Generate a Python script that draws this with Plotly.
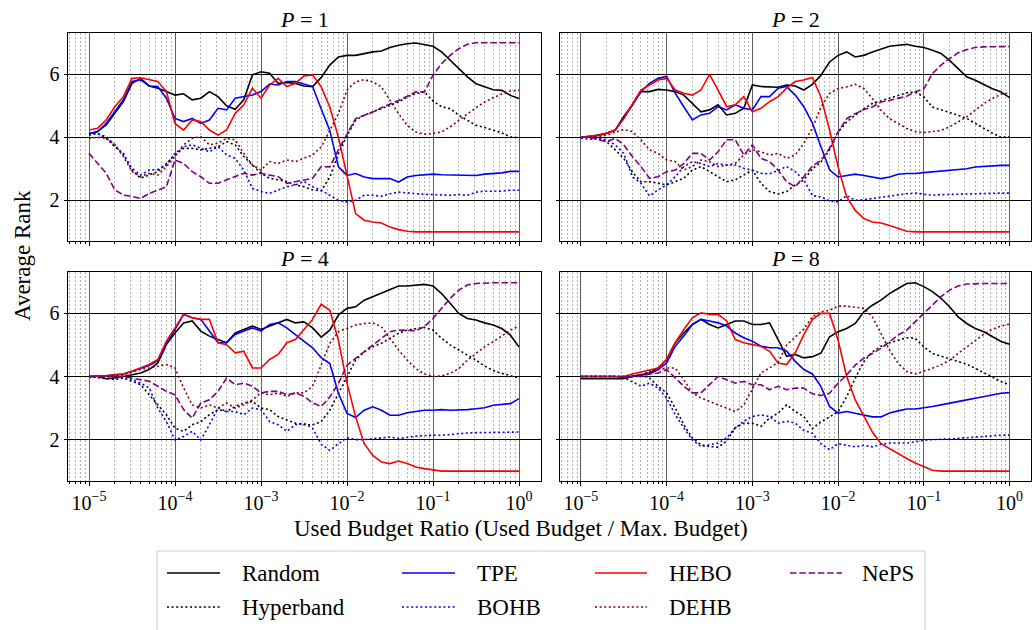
import plotly.graph_objects as go

# Budget ratio grid: exponents of 10 from 1e-5 to 1e0
exponents = [round(-5 + 0.1 * i, 1) for i in range(51)]
budget_ratio = [10 ** e for e in exponents]

# ---------------- P = 1 ----------------
random_p1 = [4.11, 4.18, 4.39, 4.76, 5.13, 5.71, 5.87, 5.63, 5.56, 5.45,
             5.34, 5.38, 5.19, 5.24, 5.45, 5.29, 5.00, 4.89, 5.19, 5.98,
             6.08, 6.03, 5.71, 5.74, 5.71, 5.63, 5.61, 5.90, 6.29, 6.55,
             6.60, 6.60, 6.66, 6.71, 6.74, 6.85, 6.92, 6.97, 6.99, 6.95,
             6.89, 6.71, 6.44, 6.18, 5.92, 5.70, 5.60, 5.51, 5.49, 5.33, 5.23]
hyperband_p1 = [4.07, 4.13, 3.97, 3.70, 3.49, 2.96, 2.70, 2.80, 2.91, 3.17,
                3.44, 3.65, 3.65, 3.60, 3.65, 3.70, 3.86, 3.76, 3.39, 3.12,
                2.86, 2.70, 2.65, 2.60, 2.49, 2.43, 2.33, 2.30, 2.74, 3.48,
                4.06, 4.54, 4.70, 4.80, 4.91, 5.02, 5.12, 5.28, 5.39, 5.44,
                5.15, 4.97, 4.91, 4.70, 4.54, 4.38, 4.31, 4.22, 4.14, 4.01, 3.99]
tpe_p1 = [4.11, 4.18, 4.44, 4.81, 5.19, 5.77, 5.82, 5.63, 5.61, 5.24,
          4.60, 4.50, 4.60, 4.44, 4.55, 4.92, 4.87, 5.24, 5.29, 5.34,
          5.45, 5.69, 5.66, 5.77, 5.77, 5.69, 5.61, 4.90, 4.22, 3.06,
          2.79, 2.85, 2.74, 2.69, 2.69, 2.69, 2.58, 2.74, 2.79, 2.81,
          2.83, 2.81, 2.80, 2.79, 2.78, 2.79, 2.83, 2.85, 2.87, 2.92, 2.92]
bohb_p1 = [4.13, 4.11, 4.02, 3.76, 3.44, 3.02, 2.80, 2.96, 2.98, 3.12,
           3.49, 3.70, 3.76, 3.65, 3.54, 3.70, 3.44, 3.33, 2.96, 2.38,
           2.28, 2.22, 2.33, 2.43, 2.49, 2.60, 2.43, 2.32, 2.16, 2.00,
           1.95, 2.00, 2.16, 2.16, 2.13, 2.21, 2.26, 2.23, 2.21, 2.19,
           2.18, 2.16, 2.16, 2.18, 2.16, 2.26, 2.29, 2.29, 2.29, 2.32, 2.32]
hebo_p1 = [4.23, 4.29, 4.55, 4.97, 5.29, 5.87, 5.89, 5.84, 5.77, 5.45,
           4.44, 4.23, 4.55, 4.50, 4.23, 4.07, 4.23, 4.76, 5.03, 5.56,
           5.24, 5.66, 5.87, 5.61, 5.71, 5.95, 5.98, 5.60, 4.96, 4.00,
           2.74, 1.58, 1.37, 1.31, 1.28, 1.15, 1.07, 1.02, 1.00, 1.00,
           1.00, 1.00, 1.00, 1.00, 1.00, 1.00, 1.00, 1.00, 1.00, 1.00, 1.00]
dehb_p1 = [3.97, 4.00, 3.97, 3.76, 3.39, 2.91, 2.75, 2.86, 2.80, 3.07,
           3.39, 3.76, 3.97, 4.02, 3.76, 3.81, 3.97, 3.92, 3.49, 3.12,
           2.96, 3.23, 3.17, 3.28, 3.23, 3.33, 3.44, 3.69, 4.22, 4.75,
           5.50, 5.76, 5.83, 5.76, 5.60, 5.17, 4.75, 4.38, 4.17, 4.10,
           4.12, 4.17, 4.33, 4.54, 4.75, 4.94, 5.12, 5.26, 5.37, 5.47, 5.49]
neps_p1 = [3.49, 3.17, 2.86, 2.33, 2.17, 2.12, 2.06, 2.22, 2.33, 2.43,
           3.28, 3.17, 2.91, 2.75, 2.54, 2.54, 2.65, 2.75, 2.86, 2.80,
           2.86, 2.80, 2.75, 2.54, 2.60, 2.65, 2.70, 3.07, 3.06, 3.60,
           4.12, 4.59, 4.70, 4.80, 4.94, 5.05, 5.17, 5.30, 5.44, 5.44,
           5.97, 6.34, 6.60, 6.81, 6.95, 7.00, 7.00, 7.00, 7.00, 7.00, 7.00]

# ---------------- P = 2 ----------------
random_p2 = [4.00, 4.02, 4.07, 4.13, 4.23, 4.66, 5.03, 5.45, 5.45, 5.52,
             5.50, 5.45, 5.34, 5.08, 4.81, 4.87, 5.03, 4.71, 4.76, 4.92,
             5.66, 5.61, 5.61, 5.59, 5.66, 5.63, 5.50, 5.68, 5.97, 6.39,
             6.60, 6.71, 6.55, 6.60, 6.71, 6.81, 6.89, 6.92, 6.95, 6.89,
             6.85, 6.76, 6.66, 6.44, 6.18, 5.92, 5.81, 5.68, 5.54, 5.44, 5.26]
hyperband_p2 = [4.00, 4.00, 3.97, 3.86, 3.60, 3.33, 2.90, 2.59, 2.59, 2.54,
                2.49, 2.59, 2.70, 2.96, 3.07, 2.91, 2.75, 2.59, 2.65, 2.80,
                2.96, 2.54, 2.28, 2.20, 2.28, 2.49, 2.65, 3.00, 3.22, 3.60,
                4.17, 4.49, 4.70, 4.91, 5.07, 5.15, 5.23, 5.33, 5.41, 5.44,
                5.28, 4.96, 4.88, 4.80, 4.70, 4.60, 4.44, 4.29, 4.13, 4.00, 4.02]
tpe_p2 = [4.00, 4.02, 4.06, 4.13, 4.23, 4.60, 5.03, 5.45, 5.71, 5.87,
          5.93, 5.40, 4.97, 4.55, 4.71, 4.76, 4.97, 4.87, 5.03, 4.92,
          4.87, 5.29, 5.29, 5.56, 5.61, 5.34, 4.97, 4.45, 3.70, 2.97,
          2.74, 2.79, 2.83, 2.79, 2.74, 2.69, 2.74, 2.83, 2.85, 2.85,
          2.88, 2.90, 2.93, 2.95, 2.98, 3.00, 3.06, 3.08, 3.10, 3.11, 3.11]
bohb_p2 = [3.97, 3.94, 3.97, 3.92, 3.76, 3.49, 2.75, 2.54, 2.14, 2.33,
           2.49, 2.75, 3.07, 3.23, 3.17, 3.07, 3.17, 3.12, 3.12, 3.02,
           2.96, 2.86, 2.84, 2.96, 3.07, 2.91, 2.65, 2.15, 2.11, 1.98,
           1.95, 2.15, 2.00, 2.02, 2.06, 2.10, 2.14, 2.19, 2.21, 2.23,
           2.19, 2.16, 2.18, 2.19, 2.20, 2.21, 2.22, 2.23, 2.23, 2.23, 2.23]
hebo_p2 = [4.00, 4.02, 4.06, 4.13, 4.23, 4.60, 5.03, 5.50, 5.66, 5.82,
           5.87, 5.50, 5.40, 5.34, 5.50, 6.00, 5.50, 4.97, 5.03, 5.29,
           4.81, 4.92, 5.13, 5.29, 5.56, 5.77, 5.82, 5.90, 5.28, 4.23,
           3.06, 2.11, 1.68, 1.42, 1.31, 1.28, 1.20, 1.10, 1.02, 1.00,
           1.00, 1.00, 1.00, 1.00, 1.00, 1.00, 1.00, 1.00, 1.00, 1.00, 1.00]
dehb_p2 = [4.00, 4.00, 4.02, 4.07, 4.15, 4.25, 4.18, 3.92, 3.60, 3.49,
           3.28, 3.23, 2.96, 3.07, 3.28, 3.23, 3.07, 3.12, 3.17, 3.44,
           3.60, 3.54, 3.44, 3.49, 3.33, 3.44, 3.81, 4.30, 4.96, 5.39,
           5.55, 5.60, 5.68, 5.55, 5.23, 4.86, 4.59, 4.44, 4.28, 4.18,
           4.15, 4.18, 4.22, 4.33, 4.49, 4.65, 4.86, 5.07, 5.23, 5.37, 5.41]
neps_p2 = [4.00, 4.00, 3.92, 3.86, 3.97, 3.76, 3.39, 3.07, 2.70, 2.75,
           2.91, 2.96, 3.17, 3.49, 3.49, 3.28, 3.54, 3.92, 3.92, 3.44,
           3.76, 3.33, 3.23, 2.96, 2.59, 2.43, 2.75, 3.09, 3.27, 3.65,
           4.17, 4.59, 4.75, 4.88, 4.96, 5.12, 5.17, 5.23, 5.30, 5.44,
           5.54, 6.02, 6.29, 6.50, 6.68, 6.78, 6.85, 6.87, 6.88, 6.88, 6.88]

# ---------------- P = 4 ----------------
random_p4 = [4.00, 4.00, 3.93, 3.95, 4.00, 4.05, 4.11, 4.22, 4.43, 5.01,
             5.38, 5.70, 5.76, 5.44, 5.28, 5.17, 5.07, 5.38, 5.49, 5.60,
             5.49, 5.60, 5.70, 5.81, 5.70, 5.73, 5.54, 5.25, 5.47, 5.95,
             6.16, 6.21, 6.42, 6.53, 6.63, 6.74, 6.87, 6.87, 6.90, 6.92,
             6.87, 6.63, 6.32, 6.00, 5.84, 5.79, 5.70, 5.63, 5.52, 5.31, 4.94]
hyperband_p4 = [4.00, 3.97, 3.93, 3.90, 3.95, 3.85, 3.74, 3.42, 3.10, 2.79,
                2.36, 2.26, 2.47, 2.57, 2.79, 2.95, 2.89, 3.05, 3.16, 3.21,
                3.00, 2.95, 2.73, 2.63, 2.52, 2.47, 2.47, 2.57, 2.93, 3.46,
                3.99, 4.52, 4.78, 4.94, 5.05, 5.21, 5.37, 5.47, 5.52, 5.56,
                5.47, 5.21, 5.00, 4.84, 4.68, 4.52, 4.33, 4.19, 4.10, 4.02, 3.95]
tpe_p4 = [4.00, 4.00, 4.02, 4.05, 4.08, 4.17, 4.27, 4.35, 4.50, 5.05,
          5.49, 5.97, 5.86, 5.81, 5.44, 5.07, 5.07, 5.33, 5.44, 5.54,
          5.44, 5.65, 5.70, 5.54, 5.33, 5.12, 4.91, 4.60, 4.41, 3.47,
          2.83, 2.70, 2.93, 3.04, 2.93, 2.77, 2.77, 2.85, 2.90, 2.93,
          2.93, 2.95, 2.93, 2.93, 2.95, 2.98, 3.01, 3.09, 3.11, 3.14, 3.30]
bohb_p4 = [4.00, 4.00, 4.00, 3.97, 4.00, 3.90, 3.79, 3.64, 3.00, 2.57,
           1.99, 2.10, 2.26, 1.99, 2.47, 3.00, 2.89, 2.89, 2.79, 3.00,
           2.95, 2.57, 2.47, 2.26, 2.47, 2.52, 2.36, 1.85, 1.66, 1.87,
           2.06, 2.00, 2.00, 2.03, 2.06, 2.08, 2.03, 2.08, 2.11, 2.13,
           2.13, 2.14, 2.16, 2.19, 2.21, 2.22, 2.22, 2.23, 2.23, 2.24, 2.24]
hebo_p4 = [4.00, 4.00, 4.02, 4.05, 4.08, 4.17, 4.27, 4.38, 4.54, 5.12,
           5.54, 5.97, 5.86, 5.81, 5.81, 5.07, 5.01, 4.75, 4.80, 4.27,
           4.27, 4.54, 4.70, 5.07, 5.17, 5.49, 5.81, 6.29, 6.10, 5.15,
           3.79, 2.72, 1.87, 1.50, 1.29, 1.24, 1.32, 1.24, 1.13, 1.08,
           1.03, 1.00, 1.00, 1.00, 1.00, 1.00, 1.00, 1.00, 1.00, 1.00, 1.00]
dehb_p4 = [4.00, 4.00, 4.00, 4.03, 4.05, 4.14, 4.22, 4.27, 4.32, 4.38,
           4.27, 3.64, 3.10, 3.00, 3.10, 3.00, 3.16, 3.00, 3.10, 3.26,
           3.48, 3.42, 3.48, 3.37, 3.48, 3.48, 3.69, 4.40, 5.05, 5.42,
           5.52, 5.63, 5.68, 5.70, 5.58, 5.21, 4.84, 4.52, 4.25, 4.08,
           4.00, 4.02, 4.10, 4.25, 4.52, 4.73, 4.94, 5.10, 5.28, 5.47, 5.60]
neps_p4 = [4.00, 4.00, 4.00, 4.00, 4.00, 3.95, 3.90, 3.85, 3.69, 3.53,
           3.42, 2.95, 2.68, 3.16, 3.26, 3.53, 3.95, 3.74, 3.79, 3.69,
           3.48, 3.53, 3.53, 3.42, 3.48, 3.37, 3.16, 3.05, 3.35, 3.78,
           4.36, 4.57, 4.78, 5.00, 5.21, 5.42, 5.47, 5.47, 5.45, 5.58,
           5.84, 6.16, 6.48, 6.74, 6.90, 6.95, 6.97, 6.97, 6.97, 6.97, 6.97]

# ---------------- P = 8 ----------------
random_p8 = [3.93, 3.93, 3.93, 3.93, 3.93, 3.93, 4.00, 4.05, 4.11, 4.27,
             4.54, 5.07, 5.38, 5.65, 5.81, 5.65, 5.54, 5.65, 5.76, 5.76,
             5.65, 5.65, 5.70, 5.17, 4.64, 4.70, 4.59, 4.63, 4.74, 5.26,
             5.42, 5.52, 5.68, 6.05, 6.26, 6.42, 6.63, 6.79, 6.95, 6.97,
             6.85, 6.69, 6.48, 6.21, 5.89, 5.68, 5.52, 5.42, 5.26, 5.11, 5.02]
hyperband_p8 = [4.00, 4.00, 4.00, 4.00, 4.00, 4.00, 4.00, 4.05, 3.95, 3.69,
                3.48, 3.00, 2.47, 2.05, 1.84, 1.78, 1.76, 1.95, 2.37, 2.52,
                2.52, 2.42, 2.68, 2.84, 3.10, 2.89, 2.73, 2.35, 2.56, 2.72,
                2.88, 3.36, 3.95, 4.47, 4.78, 4.96, 5.07, 5.15, 5.23, 5.21,
                4.94, 4.73, 4.65, 4.57, 4.49, 4.39, 4.26, 4.12, 4.00, 3.84, 3.74]
tpe_p8 = [4.00, 4.00, 4.00, 4.00, 4.00, 3.97, 4.00, 4.05, 4.08, 4.22,
          4.43, 4.96, 5.28, 5.65, 5.81, 5.76, 5.70, 5.60, 5.38, 5.23,
          5.12, 4.96, 4.91, 4.91, 4.80, 4.48, 4.22, 4.08, 3.68, 3.05,
          2.84, 2.89, 2.84, 2.78, 2.72, 2.72, 2.84, 2.91, 2.97, 2.97,
          3.00, 3.05, 3.10, 3.16, 3.21, 3.26, 3.31, 3.37, 3.42, 3.47, 3.49]
bohb_p8 = [4.00, 4.00, 4.00, 4.00, 4.00, 3.97, 3.84, 3.69, 3.79, 3.63,
           3.32, 2.79, 2.37, 1.99, 1.78, 1.84, 1.89, 2.05, 2.37, 2.58,
           2.73, 2.78, 2.73, 2.52, 2.58, 2.52, 2.29, 2.20, 1.87, 1.68,
           1.87, 1.82, 1.77, 1.82, 1.77, 1.85, 1.89, 1.89, 1.89, 1.93,
           1.98, 2.00, 2.00, 2.02, 2.04, 2.06, 2.08, 2.11, 2.12, 2.14, 2.14]
hebo_p8 = [4.00, 4.00, 4.00, 4.00, 4.00, 4.00, 4.08, 4.14, 4.19, 4.27,
           4.54, 5.07, 5.49, 5.86, 6.02, 5.97, 5.97, 5.76, 5.17, 5.07,
           5.01, 4.96, 4.80, 4.43, 4.38, 4.75, 5.33, 5.81, 6.00, 6.00,
           5.15, 4.00, 3.26, 2.73, 2.24, 1.87, 1.71, 1.56, 1.40, 1.26,
           1.15, 1.03, 1.00, 1.00, 1.00, 1.00, 1.00, 1.00, 1.00, 1.00, 1.00]
dehb_p8 = [4.00, 4.00, 4.00, 4.00, 4.00, 4.00, 4.03, 4.05, 4.16, 4.22,
           4.27, 4.27, 3.90, 3.48, 3.32, 3.21, 3.10, 3.00, 2.89, 3.10,
           3.63, 4.11, 4.27, 4.45, 5.00, 5.24, 5.50, 5.90, 6.05, 6.10,
           6.23, 6.23, 6.19, 6.16, 5.89, 5.37, 4.84, 4.42, 4.16, 4.08,
           4.16, 4.26, 4.37, 4.52, 4.73, 4.94, 5.15, 5.34, 5.50, 5.60, 5.66]
neps_p8 = [4.00, 4.00, 4.00, 4.00, 4.00, 4.00, 4.00, 4.00, 4.08, 4.11,
           4.22, 3.95, 3.69, 3.48, 3.48, 3.74, 4.00, 3.90, 3.79, 3.84,
           3.74, 3.74, 3.58, 3.69, 3.58, 3.63, 3.63, 3.45, 3.40, 3.47,
           3.79, 4.05, 4.36, 4.58, 4.73, 4.89, 5.10, 5.31, 5.47, 5.74,
           6.00, 6.26, 6.53, 6.74, 6.87, 6.93, 6.95, 6.95, 6.95, 6.95, 6.95]

methods = ["Random", "Hyperband", "TPE", "BOHB", "HEBO", "DEHB", "NePS"]
panel_labels = ["1", "2", "4", "8"]
panel_series = [
    [random_p1, hyperband_p1, tpe_p1, bohb_p1, hebo_p1, dehb_p1, neps_p1],
    [random_p2, hyperband_p2, tpe_p2, bohb_p2, hebo_p2, dehb_p2, neps_p2],
    [random_p4, hyperband_p4, tpe_p4, bohb_p4, hebo_p4, dehb_p4, neps_p4],
    [random_p8, hyperband_p8, tpe_p8, bohb_p8, hebo_p8, dehb_p8, neps_p8],
]

DOT = "2px,2.6px"
DASH = "6.5px,2.8px"
line_styles = {
    "Random": ("black", "solid"),
    "Hyperband": ("black", DOT),
    "TPE": ("blue", "solid"),
    "BOHB": ("blue", DOT),
    "HEBO": ("red", "solid"),
    "DEHB": ("#8b0000", DOT),
    "NePS": ("purple", DASH),
}

W, H = 1032, 630
FONT = "Liberation Serif, Times New Roman, Times, DejaVu Serif, serif"


def px_x(v):
    return v / W


def px_y(v):
    return 1 - v / H


# panel frames in pixels: (left, right, top, bottom)
frames = [
    (67.5, 540.5, 33.3, 241.3),
    (559.5, 1031.0, 33.3, 241.3),
    (67.5, 540.5, 272.4, 480.6),
    (559.5, 1031.0, 272.4, 480.6),
]

fig = go.Figure()

for p, series in enumerate(panel_series):
    suffix = "" if p == 0 else str(p + 1)
    for name, ys in zip(methods, series):
        color, dash = line_styles[name]
        fig.add_trace(go.Scatter(
            x=budget_ratio, y=ys, mode="lines", name=name, showlegend=False,
            line=dict(color=color, width=1.6, dash=dash),
            xaxis="x" + suffix, yaxis="y" + suffix,
        ))

decades = [-5, -4, -3, -2, -1, 0]
major_vals = [10.0 ** d for d in decades]
major_text = ["10<sup>\u2212%d</sup>" % -d if d < 0 else "10<sup>0</sup>" for d in decades]
minor_vals = [k * 10.0 ** n for n in range(-6, 1) for k in range(2, 10)]
minor_vals = [v for v in minor_vals if 10 ** -5.25 < v < 10 ** 0.25]

layout = dict(
    width=W, height=H, margin=dict(l=0, r=0, t=0, b=0),
    paper_bgcolor="white", plot_bgcolor="white",
    font=dict(family=FONT, size=20, color="black"),
)

for p, (l, r, t, b) in enumerate(frames):
    suffix = "" if p == 0 else str(p + 1)
    bottom_row = p >= 2
    left_col = p % 2 == 0
    layout["xaxis" + suffix] = dict(
        type="log", range=[-5.25, 0.25],
        domain=[px_x(l), px_x(r)], anchor="y" + suffix,
        tickmode="array", tickvals=major_vals, ticktext=major_text,
        showticklabels=bottom_row, tickfont=dict(size=20, family=FONT),
        ticks="outside", ticklen=4, tickcolor="black",
        showgrid=True, gridcolor="#5f5f5f", gridwidth=1.3,
        showline=True, mirror=True, linecolor="black", linewidth=1,
        minor=dict(tickmode="array", tickvals=minor_vals, ticks="outside",
                   ticklen=2, tickcolor="black", showgrid=True,
                   gridcolor="#b4b4b4", gridwidth=0.8, griddash="2px,2px"),
        zeroline=False,
    )
    layout["yaxis" + suffix] = dict(
        range=[0.7, 7.3], domain=[px_y(b), px_y(t)], anchor="x" + suffix,
        tickmode="array", tickvals=[2, 4, 6], showticklabels=left_col,
        tickfont=dict(size=20, family=FONT),
        ticks="outside", ticklen=3, tickcolor="black",
        showgrid=True, gridcolor="black", gridwidth=1,
        showline=True, mirror=True, linecolor="black", linewidth=1,
        zeroline=False,
    )

fig.update_layout(**layout)

annotations = []
shapes = []

# panel titles
for p, (l, r, t, b) in enumerate(frames):
    annotations.append(dict(
        x=px_x((l + r) / 2), y=px_y(t - 14), xref="paper", yref="paper",
        text="<i>P</i> = " + panel_labels[p], showarrow=False,
        xanchor="center", yanchor="middle",
        font=dict(family=FONT, size=22, color="black"),
    ))

# shared axis titles
annotations.append(dict(
    x=px_x(22), y=px_y(256), xref="paper", yref="paper", text="Average Rank",
    textangle=-90, showarrow=False, xanchor="center", yanchor="middle",
    font=dict(family=FONT, size=23, color="black"),
))
annotations.append(dict(
    x=px_x(521), y=px_y(528), xref="paper", yref="paper",
    text="Used Budget Ratio (Used Budget / Max. Budget)",
    showarrow=False, xanchor="center", yanchor="middle",
    font=dict(family=FONT, size=23, color="black"),
))

# legend box
shapes.append(dict(
    type="rect", xref="paper", yref="paper",
    x0=px_x(157), x1=px_x(925), y0=px_y(665), y1=px_y(551),
    line=dict(color="#cccccc", width=1), fillcolor="white", layer="above",
))
legend_slots = {
    "Random": (167, 220, 240, 573),
    "Hyperband": (167, 220, 240, 607),
    "TPE": (402, 455, 475, 573),
    "BOHB": (402, 455, 475, 607),
    "HEBO": (595, 647, 667, 573),
    "DEHB": (595, 647, 667, 607),
    "NePS": (790, 842, 860, 573),
}
for name in methods:
    x0, x1, tx, yy = legend_slots[name]
    color, dash = line_styles[name]
    shapes.append(dict(
        type="line", xref="paper", yref="paper",
        x0=px_x(x0), x1=px_x(x1), y0=px_y(yy), y1=px_y(yy),
        line=dict(color=color, width=1.6, dash=dash), layer="above",
    ))
    annotations.append(dict(
        x=px_x(tx), y=px_y(yy), xref="paper", yref="paper", text=name,
        showarrow=False, xanchor="left", yanchor="middle",
        font=dict(family=FONT, size=23, color="black"),
    ))

fig.update_layout(annotations=annotations, shapes=shapes)
fig.write_html("out.html")
